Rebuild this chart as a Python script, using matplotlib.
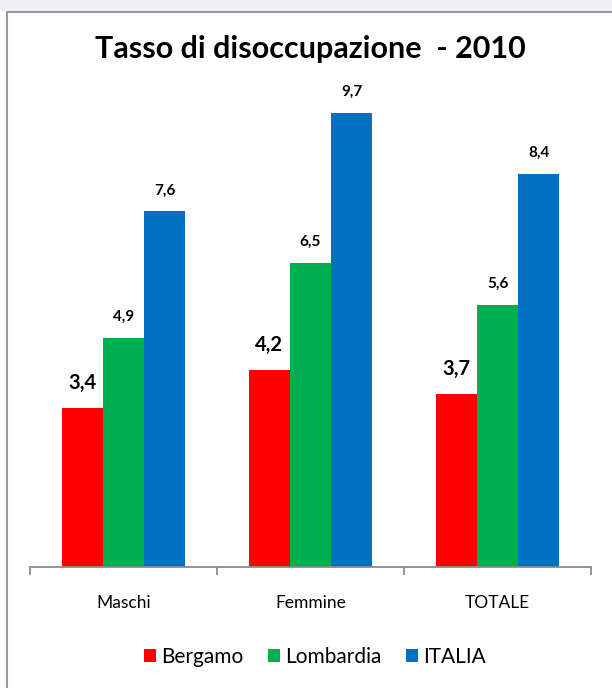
import numpy as np
import matplotlib
matplotlib.use('Agg')
import matplotlib.pyplot as plt
from matplotlib.patches import Rectangle

plt.rcParams['font.family'] = ['Lato', 'DejaVu Sans']

categories = ['Maschi', 'Femmine', 'TOTALE']
series = ['Bergamo', 'Lombardia', 'ITALIA']
bergamo = [3.4, 4.2, 3.7]
lombardia = [4.9, 6.5, 5.6]
italia = [7.6, 9.7, 8.4]
colors = ['#ff0000', '#00b050', '#0070c0']

fig = plt.figure(figsize=(6.12, 6.88), dpi=100, facecolor='white')

# outer frame like the spreadsheet chart area
fig.patches.append(Rectangle((0, 1 - 11 / 688), 1, 11 / 688, transform=fig.transFigure,
                             facecolor='#edf1f6', edgecolor='none', zorder=-2))
fig.patches.append(Rectangle((7 / 612, -0.05), 1.2, 1 - 12 / 688 + 0.05, transform=fig.transFigure,
                             facecolor='none', edgecolor='#9a9a9a', lw=1.5, zorder=-1))

ax = fig.add_axes([30 / 612, 121 / 688, 561 / 612, 477 / 688])
ax.set_facecolor('none')

x = np.arange(len(categories))
w = 0.22
for i, (vals, name) in enumerate(zip([bergamo, lombardia, italia], series)):
    pos = x + (i - 1) * w
    ax.bar(pos, vals, width=w, color=colors[i], label=name, zorder=2)
    for p, v in zip(pos, vals):
        txt = f'{v:.1f}'.replace('.', ',')
        if i == 0:
            ax.annotate(txt, (p, v), xytext=(0, 11), textcoords='offset points',
                        ha='center', va='bottom', fontsize=14.5, fontweight='bold')
        else:
            ax.annotate(txt, (p, v), xytext=(0, 10), textcoords='offset points',
                        ha='center', va='bottom', fontsize=11, fontweight='bold')

ax.set_xlim(-0.5, 2.5)
ax.set_ylim(0, 10.19)
for s in ['left', 'right', 'top']:
    ax.spines[s].set_visible(False)
ax.spines['bottom'].set_color('#8c8c8c')
ax.spines['bottom'].set_linewidth(1.3)
ax.set_yticks([])
ax.set_xticks([-0.5, 0.5, 1.5, 2.5])
ax.set_xticklabels([])
ax.tick_params(axis='x', length=6, color='#8c8c8c', width=1.3)
ax.set_xticks(x, minor=True)
ax.set_xticklabels(categories, minor=True, fontsize=12.5)
ax.tick_params(axis='x', which='minor', length=0, pad=20)

fig.text(310 / 612, 1 - 49 / 688, 'Tasso di disoccupazione  - 2010', ha='center',
         va='center', fontsize=22, fontweight='bold')

fig.legend(loc='center', bbox_to_anchor=(315 / 612, 1 - 657 / 688), ncol=3,
           frameon=False, fontsize=15, handlelength=0.6, handleheight=0.6,
           handletextpad=0.25, columnspacing=1.15)

plt.savefig('out.png', dpi=100)
plt.close()
